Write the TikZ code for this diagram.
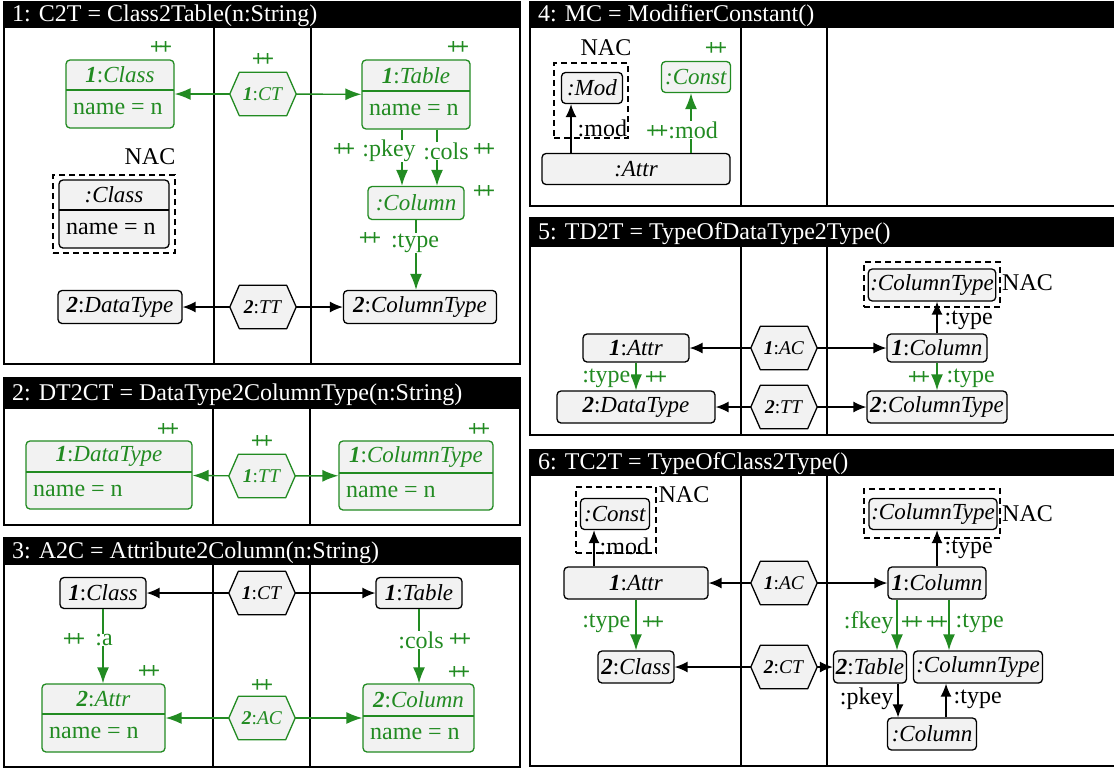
\documentclass[tikz,border=0pt]{standalone}
\usepackage{fontspec}
\setmainfont{Liberation Serif}
\usetikzlibrary{arrows.meta,fit,calc}

\definecolor{grn}{RGB}{34,139,34}
\definecolor{boxfill}{RGB}{242,242,242}

\newcommand\bnum[1]{\textbf{\textit{#1}}}
\newcommand\plusplus{\textbf{+\kern-4pt+}}

\tikzset{
  obj/.style={draw, fill=boxfill, rounded corners=4pt, line width=1.3pt, inner sep=0pt},
  simple/.style={draw, fill=boxfill, rounded corners=4pt, line width=1.3pt, inner sep=2pt,
    font=\fontsize{23}{26}\selectfont},
  gbox/.style={draw=grn, text=grn},
  nodetext/.style={inner sep=0pt, font=\fontsize{23}{26}\selectfont},
  attrtext/.style={inner sep=0pt, font=\fontsize{24}{27}\selectfont},
  hexbox/.style={minimum width=66pt, minimum height=43pt, inner sep=0pt},
  hexline/.style={fill=boxfill, line width=1.3pt, line join=round},
  hextext/.style={inner sep=0pt, font=\fontsize{19.5}{22}\selectfont},
  garrow/.style={draw=grn, line width=1.4pt, -{Latex[length=16pt,width=12pt]}},
  barrow/.style={draw=black, line width=1.4pt, -{Latex[length=13pt,width=11pt]}},
  elab/.style={fill=white, inner sep=0.5pt, font=\fontsize{24}{27}\selectfont},
  pp/.style={text=grn, inner sep=0pt, font=\fontsize{23}{23}\selectfont},
  nactext/.style={inner sep=0pt, font=\fontsize{24}{27}\selectfont},
  nac/.style={draw, dashed, dash pattern=on 6pt off 4pt, line width=1.3pt, inner sep=0pt},
  frame/.style={draw, line width=2pt},
  divline/.style={line width=1.8pt},
  titletext/.style={text=white, anchor=west, inner sep=0pt, font=\fontsize{24}{27}\selectfont}
}

% object with a header and one attribute line:
% name, colour, left, top, right, divider y, bottom, header, attribute
\newcommand\cbox[9]{%
  \node[obj, draw=#2, fit={(#3,#4) (#5,#7)}] (#1) {};
  \draw[line width=1.2pt, #2] (#3,#6) -- (#5,#6);
  \node[nodetext, text=#2] at ({(#3+#5)/2},{(#4+#6)/2}) {#8};
  \node[attrtext, text=#2, anchor=west] at ({#3+7},{(#6+#7)/2}) {#9};
}

% correspondence hexagon: name, x, y, text, colour
\newcommand\hexnode[5]{%
  \node[hexbox] (#1) at (#2,#3) {};
  \draw[hexline, draw=#5] (#1.west) -- ([xshift=9.5pt]#1.north west) -- ([xshift=-9.5pt]#1.north east)
    -- (#1.east) -- ([xshift=-9.5pt]#1.south east) -- ([xshift=9.5pt]#1.south west) -- cycle;
  \node[hextext, text=#5] at (#1.center) {#4};
}

% rule panel: left, top, right, title bottom, bottom, divider 1, divider 2, title
\newcommand\panel[8]{%
  \fill[black] (#1,#2) rectangle (#3,#4);
  \draw[frame] (#1,#2) rectangle (#3,#5);
  \draw[divline] (#6,#4) -- (#6,#5);
  \draw[divline] (#7,#4) -- (#7,#5);
  \node[titletext] at ({#1+8},{(#2+#4)/2+1}) {#8};
}

\begin{document}
\begin{tikzpicture}[x=1pt,y=-1pt]
\useasboundingbox (0,0) rectangle (1114,769);
\clip (0,0) rectangle (1114,769);
\fill[white] (0,0) rectangle (1114,769);

% ---------------- panels ----------------
\panel{4}{2}{520}{28}{364}{214}{311}{1: C2T = Class2Table(n:String)}
\panel{4}{378}{520}{409}{525}{213}{310}{2: DT2CT = DataType2ColumnType(n:String)}
\panel{4}{538}{520}{565}{767}{213}{310}{3: A2C = Attribute2Column(n:String)}
\panel{530}{2}{1122}{28}{206}{741}{827}{4: MC = ModifierConstant()}
\panel{530}{218}{1122}{247}{435}{741}{827}{5: TD2T = TypeOfDataType2Type()}
\panel{530}{450}{1122}{476}{766}{741}{827}{6: TC2T = TypeOfClass2Type()}

% ---------------- 1: C2T ----------------
\cbox{p1cls}{grn}{66}{60}{174}{90}{128}{\bnum{1}:\textit{Class}}{name = n}
\node[pp] at (161,48) {\plusplus};
\hexnode{p1ct}{263}{94}{\bnum{1}:\textit{CT}}{grn}
\node[pp] at (263,60) {\plusplus};
\cbox{p1tab}{grn}{362}{60}{470}{91}{129}{\bnum{1}:\textit{Table}}{name = n}
\node[pp] at (458,48) {\plusplus};
\draw[garrow] (p1ct) -- (p1cls);
\draw[garrow] (p1ct) -- (p1tab);

\node[nactext] at (150,157) {NAC};
\node[nac, fit={(53,175) (175,253)}] (p1nac) {};
\cbox{p1ncls}{black}{59}{180}{169}{210}{248}{\textit{:Class}}{name = n}

\node[simple, gbox, minimum width=96pt, minimum height=33pt] (p1col) at (416,203) {\textit{:Column}};
\node[pp] at (484,192) {\plusplus};
\draw[garrow] ([xshift=-14pt]p1tab.south) -- ([xshift=-14pt]p1col.north);
\draw[garrow] ([xshift=21pt]p1tab.south) -- ([xshift=21pt]p1col.north);
\node[elab, text=grn] at (389,151) {:pkey};
\node[pp] at (344,150) {\plusplus};
\node[elab, text=grn] at (446,151) {:cols};
\node[pp] at (484,150) {\plusplus};

\node[simple, minimum width=153pt, minimum height=33pt] (p1ctyp) at (420,307) {\bnum{2}:\textit{ColumnType}};
\draw[garrow] (p1col.south) -- (p1col.south |- p1ctyp.north);
\node[elab, text=grn] at (415,243) {:type};
\node[pp] at (370,239) {\plusplus};

\hexnode{p1tt}{263}{307}{\bnum{2}:\textit{TT}}{black}
\node[simple, minimum width=124pt, minimum height=33pt] (p1dt) at (120,307) {\bnum{2}:\textit{DataType}};
\draw[barrow] (p1tt) -- (p1dt);
\draw[barrow] (p1tt) -- (p1ctyp);

% ---------------- 2: DT2CT ----------------
\cbox{p2dt}{grn}{26}{441}{192}{472}{509}{\bnum{1}:\textit{DataType}}{name = n}
\node[pp] at (168,430) {\plusplus};
\hexnode{p2tt}{262}{476}{\bnum{1}:\textit{TT}}{grn}
\node[pp] at (262,442) {\plusplus};
\cbox{p2ct}{grn}{339}{441}{493}{473}{510}{\bnum{1}:\textit{ColumnType}}{name = n}
\node[pp] at (479,430) {\plusplus};
\draw[garrow] (p2tt) -- (p2dt);
\draw[garrow] (p2tt) -- (p2ct);

% ---------------- 3: A2C ----------------
\node[simple, minimum width=86pt, minimum height=31pt] (p3cls) at (103,593) {\bnum{1}:\textit{Class}};
\hexnode{p3ct}{262}{593}{\bnum{1}:\textit{CT}}{black}
\node[simple, minimum width=86pt, minimum height=31pt] (p3tab) at (419,593) {\bnum{1}:\textit{Table}};
\draw[barrow] (p3ct) -- (p3cls);
\draw[barrow] (p3ct) -- (p3tab);

\cbox{p3attr}{grn}{42}{684}{165}{714}{752}{\bnum{2}:\textit{Attr}}{name = n}
\node[pp] at (149,672) {\plusplus};
\hexnode{p3ac}{262}{718}{\bnum{2}:\textit{AC}}{grn}
\node[pp] at (262,686) {\plusplus};
\cbox{p3col}{grn}{363}{684}{474}{716}{752}{\bnum{2}:\textit{Column}}{name = n}
\node[pp] at (459,673) {\plusplus};
\draw[garrow] (p3ac) -- (p3attr);
\draw[garrow] (p3ac) -- (p3col);

\draw[garrow] (p3cls.south) -- (p3cls.south |- p3attr.north);
\node[elab, text=grn] at (104,640) {:a};
\node[pp] at (74,640) {\plusplus};
\draw[garrow] (p3tab.south) -- (p3tab.south |- p3col.north);
\node[elab, text=grn] at (421,640) {:cols};
\node[pp] at (460,640) {\plusplus};

% ---------------- 4: MC ----------------
\node[nactext] at (606,48) {NAC};
\node[nac, fit={(554,63) (628,138)}] (p4nac) {};
\node[simple, minimum width=61pt, minimum height=31pt] (p4mod) at (592,88) {\textit{:Mod}};
\node[simple, minimum width=188pt, minimum height=31pt] (p4attr) at (636,169) {\textit{:Attr}};
\node[simple, gbox, minimum width=69pt, minimum height=31pt] (p4const) at (696,77) {\textit{:Const}};
\node[pp] at (716,49) {\plusplus};
\draw[barrow] ([xshift=-65pt]p4attr.north) -- ([xshift=-21pt]p4mod.south);
\node[elab, fill=none, anchor=west] at (577,128) {:mod};
\draw[garrow] ([xshift=55pt]p4attr.north) -- ([xshift=-5pt]p4const.south);
\node[elab, text=grn] at (682,130) {\fontsize{23}{23}\selectfont\plusplus\fontsize{24}{27}\selectfont:mod};

% ---------------- 5: TD2T ----------------
\node[nac, fit={(864,262) (1000,307)}] (p5nac) {};
\node[simple, minimum width=127pt, minimum height=32pt] (p5nct) at (932,285) {\textit{:ColumnType}};
\node[nactext, anchor=west] at (1002,283) {NAC};
\node[simple, minimum width=100pt, minimum height=28pt] (p5col) at (937,348) {\bnum{1}:\textit{Column}};
\draw[barrow] (p5col.north) -- (p5col.north |- p5nct.south);
\node[elab, fill=none, anchor=west] at (944,320) {:type};

\node[simple, minimum width=106pt, minimum height=28pt] (p5attr) at (636,348) {\bnum{1}:\textit{Attr}};
\hexnode{p5ac}{784}{348}{\bnum{1}:\textit{AC}}{black}
\draw[barrow] (p5ac) -- (p5attr);
\draw[barrow] (p5ac) -- (p5col);

\node[simple, minimum width=158pt, minimum height=32pt] (p5dt) at (636,407) {\bnum{2}:\textit{DataType}};
\hexnode{p5tt}{784}{407}{\bnum{2}:\textit{TT}}{black}
\node[simple, minimum width=140pt, minimum height=32pt] (p5ct) at (937,407) {\bnum{2}:\textit{ColumnType}};
\draw[barrow] (p5tt) -- (p5dt);
\draw[barrow] (p5tt) -- (p5ct);

\draw[garrow] (p5attr) -- (p5dt);
\node[elab, text=grn, anchor=east] at (631,378) {:type};
\node[pp] at (656,378) {\plusplus};
\draw[garrow] (p5col) -- (p5ct);
\node[pp] at (919,378) {\plusplus};
\node[elab, text=grn, anchor=west, fill=none] at (946,378) {:type};

% ---------------- 6: TC2T ----------------
\node[nac, fit={(576,487) (656,553)}] (p6nac) {};
\node[simple, minimum width=69pt, minimum height=31pt] (p6const) at (615,514) {\textit{:Const}};
\node[nactext] at (684,495) {NAC};
\node[simple, minimum width=144pt, minimum height=32pt] (p6attr) at (636,583) {\bnum{1}:\textit{Attr}};
\draw[barrow] ([xshift=-42pt]p6attr.north) -- ([xshift=-21pt]p6const.south);
\node[elab, fill=none, anchor=west] at (599,546) {:mod};

\hexnode{p6ac}{784}{583}{\bnum{1}:\textit{AC}}{black}
\node[simple, minimum width=98pt, minimum height=32pt] (p6col) at (937,583) {\bnum{1}:\textit{Column}};
\draw[barrow] (p6ac) -- (p6attr);
\draw[barrow] (p6ac) -- (p6col);

\node[nac, fit={(864,489) (1000,538)}] (p6nac2) {};
\node[simple, minimum width=128pt, minimum height=31pt] (p6nct) at (933,514) {\textit{:ColumnType}};
\node[nactext, anchor=west] at (1002,514) {NAC};
\draw[barrow] (p6col.north) -- (p6col.north |- p6nct.south);
\node[elab, fill=none, anchor=west] at (944,549) {:type};

\node[simple, minimum width=76pt, minimum height=32pt] (p6cls) at (636,667) {\bnum{2}:\textit{Class}};
\draw[garrow] (p6attr) -- (p6cls);
\node[elab, text=grn, anchor=east, fill=none] at (631,623) {:type};
\node[pp] at (653,623) {\plusplus};

\hexnode{p6ct}{784}{667}{\bnum{2}:\textit{CT}}{black}
\node[simple, minimum width=73pt, minimum height=32pt] (p6tab) at (870,667) {\bnum{2}:\textit{Table}};
\node[simple, minimum width=129pt, minimum height=32pt] (p6ct2) at (978,667) {\textit{:ColumnType}};
\draw[barrow] (p6ct) -- (p6cls);
\draw[barrow] (p6ct) -- (p6tab);

\draw[garrow] ([xshift=-40pt]p6col.south) -- ([xshift=27pt]p6tab.north);
\node[elab, text=grn, anchor=east, fill=none] at (894,623) {:fkey};
\node[pp] at (912,623) {\plusplus};
\draw[garrow] ([xshift=12pt]p6col.south) -- ([xshift=-29pt]p6ct2.north);
\node[pp] at (937,623) {\plusplus};
\node[elab, text=grn, anchor=west, fill=none] at (955,623) {:type};

\node[simple, minimum width=89pt, minimum height=32pt] (p6col2) at (932,734) {\textit{:Column}};
\draw[barrow] ([xshift=28pt]p6tab.south) -- ([xshift=-34pt]p6col2.north);
\node[elab, fill=none, anchor=east] at (894,699) {:pkey};
\draw[barrow] ([xshift=14pt]p6col2.north) -- ([xshift=-32pt]p6ct2.south);
\node[elab, fill=none, anchor=west] at (953,699) {:type};
\end{tikzpicture}
\end{document}
